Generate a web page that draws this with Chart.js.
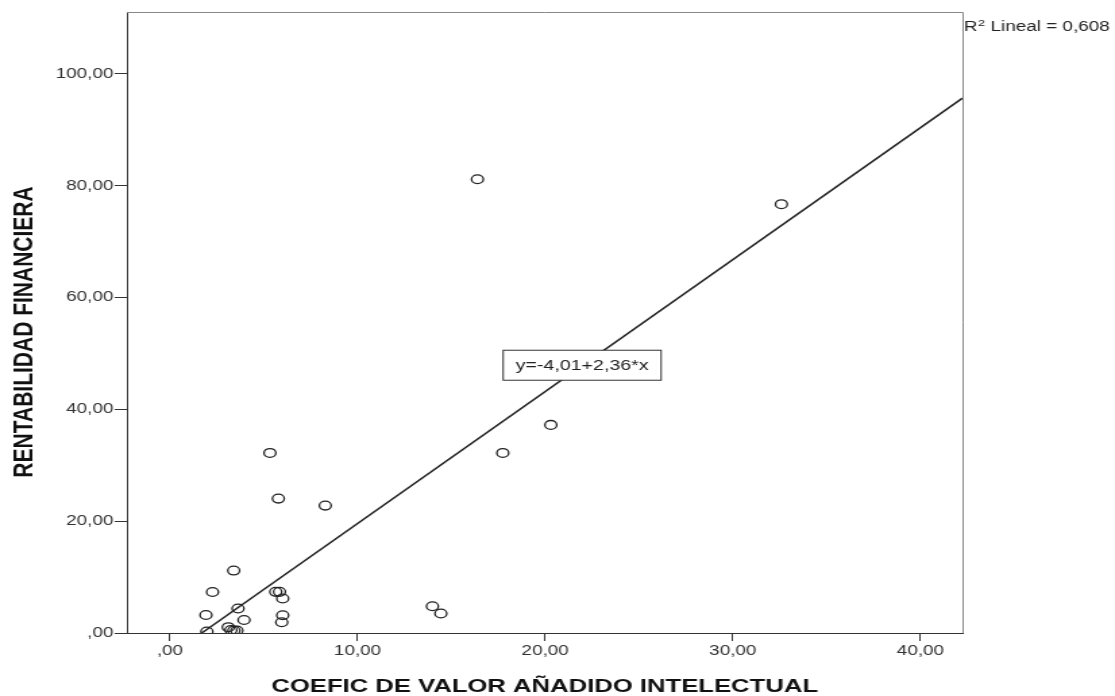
<!DOCTYPE html>
<html>
<head>
<meta charset="utf-8">
<script src="https://cdn.jsdelivr.net/npm/chart.js@4.4.1/dist/chart.umd.min.js"></script>
<style>
    html, body { margin: 0; padding: 0; background: #fff; overflow: hidden; }
    /* the reference is an SPSS picture stretched sideways, so the canvas is too */
    #scatter { display: block; width: 1115px !important; height: 696px !important; }
</style>
</head>
<body>
<canvas id="scatter" width="826" height="696"></canvas>
<script>
// values
const coefVAI = [16.39, 32.59, 20.30, 17.74, 5.33, 5.78, 8.28, 3.40, 2.27, 5.64, 5.84, 6.01,
                 1.92, 3.63, 3.95, 6.01, 5.96, 1.97, 3.11, 3.25, 3.41, 3.57, 13.99, 14.44];
const rentFin = [81.18, 76.71, 37.23, 32.21, 32.21, 24.04, 22.79, 11.17, 7.33, 7.36, 7.36, 6.17,
                 3.22, 4.38, 2.32, 3.18, 1.93, 0.27, 1.04, 0.54, 0.45, 0.45, 4.79, 3.49];

// fit line ends (y=-4,01+2,36*x clipped to the plot)
const fitX = [1.70, 42.24];
const fitY = [0, 95.68];

const xTickValues = [0, 10, 20, 30, 40];
const yTickValues = [0, 20, 40, 60, 80, 100];

const xTitle = "COEFIC DE VALOR AÑADIDO INTELECTUAL";
const yTitle = "RENTABILIDAD FINANCIERA";
const eqText = "y=-4,01+2,36*x";
const r2Text = " Lineal = 0,608";

const FONT = '"Liberation Sans", Arial, sans-serif';

function spssNum(v) {
    return v === 0 ? ",00" : v.toFixed(2).replace(".", ",");
}

const extras = {
    id: "extras",
    afterDatasetsDraw(chart) {
        const { ctx, scales } = chart;
        // equation label box
        const cx = scales.x.getPixelForValue(21.97);
        const cy = scales.y.getPixelForValue(47.9);
        const w = 117, h = 30;
        ctx.save();
        ctx.fillStyle = "#fff";
        ctx.fillRect(cx - w / 2, cy - h / 2, w, h);
        ctx.strokeStyle = "#333";
        ctx.lineWidth = 1;
        ctx.strokeRect(cx - w / 2, cy - h / 2, w, h);
        ctx.font = "14.5px " + FONT;
        ctx.fillStyle = "#222";
        ctx.textAlign = "center";
        ctx.textBaseline = "middle";
        ctx.fillText(eqText, cx, cy + 1);
        ctx.restore();
    },
    afterDraw(chart) {
        const { ctx, chartArea } = chart;
        ctx.save();
        // top and right frame
        ctx.strokeStyle = "#888";
        ctx.lineWidth = 1;
        ctx.beginPath();
        ctx.moveTo(chartArea.left, chartArea.top + 0.5);
        ctx.lineTo(chartArea.right + 0.5, chartArea.top + 0.5);
        ctx.lineTo(chartArea.right + 0.5, chartArea.bottom);
        ctx.stroke();

        // axis titles
        ctx.fillStyle = "#111";
        ctx.textAlign = "center";
        ctx.textBaseline = "alphabetic";
        ctx.font = "bold 19px " + FONT;
        ctx.fillText(xTitle, (chartArea.left + chartArea.right) / 2, 692);

        ctx.save();
        ctx.translate(23.5, 332);
        ctx.rotate(-Math.PI / 2);
        ctx.font = "bold 21px " + FONT;
        ctx.fillText(yTitle, 0, 0);
        ctx.restore();

        // R² note
        let x0 = chartArea.right + 1;
        ctx.textAlign = "left";
        ctx.fillStyle = "#222";
        ctx.font = "14px " + FONT;
        ctx.fillText("R", x0, 31);
        x0 += ctx.measureText("R").width;
        ctx.font = "9.5px " + FONT;
        ctx.fillText("2", x0 + 0.5, 25.5);
        x0 += ctx.measureText("2").width + 0.5;
        ctx.font = "14px " + FONT;
        ctx.fillText(r2Text, x0, 31);
        ctx.restore();
    },
};

const ctx = document.getElementById("scatter");

new Chart(ctx, {
    type: "scatter",
    data: {
        datasets: [
            {
                label: "RENTABILIDAD FINANCIERA",
                data: coefVAI.map((v, i) => ({ x: v, y: rentFin[i] })),
                pointRadius: 4.4,
                pointBorderWidth: 1.3,
                borderColor: "#222",
                backgroundColor: "rgba(0,0,0,0)",
                clip: 0,
            },
            {
                type: "line",
                label: "Lineal",
                data: fitX.map((v, i) => ({ x: v, y: fitY[i] })),
                borderColor: "#222",
                borderWidth: 1.5,
                pointRadius: 0,
                fill: false,
                clip: 0,
            },
        ],
    },
    options: {
        responsive: false,
        animation: false,
        devicePixelRatio: 1,
        layout: { padding: { left: 0, right: 113, top: 12, bottom: 0 } },
        plugins: {
            legend: { display: false },
            tooltip: { enabled: false },
        },
        scales: {
            x: {
                type: "linear",
                min: -2.293,
                max: 42.24,
                afterBuildTicks: (s) => { s.ticks = xTickValues.map((v) => ({ value: v })); },
                afterFit: (s) => { s.height = 63; },
                grid: { drawOnChartArea: false, drawTicks: true, tickLength: 8, color: "#333", lineWidth: 1 },
                border: { display: true, color: "#333", width: 1 },
                ticks: {
                    padding: 2,
                    color: "#333",
                    font: { family: FONT, size: 14 },
                    callback: (v) => spssNum(v),
                },
            },
            y: {
                type: "linear",
                min: 0,
                max: 111.09,
                afterBuildTicks: (s) => { s.ticks = yTickValues.map((v) => ({ value: v })); },
                afterFit: (s) => { s.width = 94; },
                grid: { drawOnChartArea: false, drawTicks: true, tickLength: 9, color: "#333", lineWidth: 1 },
                border: { display: true, color: "#333", width: 1 },
                ticks: {
                    padding: 1,
                    color: "#333",
                    font: { family: FONT, size: 14 },
                    callback: (v) => spssNum(v),
                },
            },
        },
    },
    plugins: [extras],
});
</script>
</body>
</html>
